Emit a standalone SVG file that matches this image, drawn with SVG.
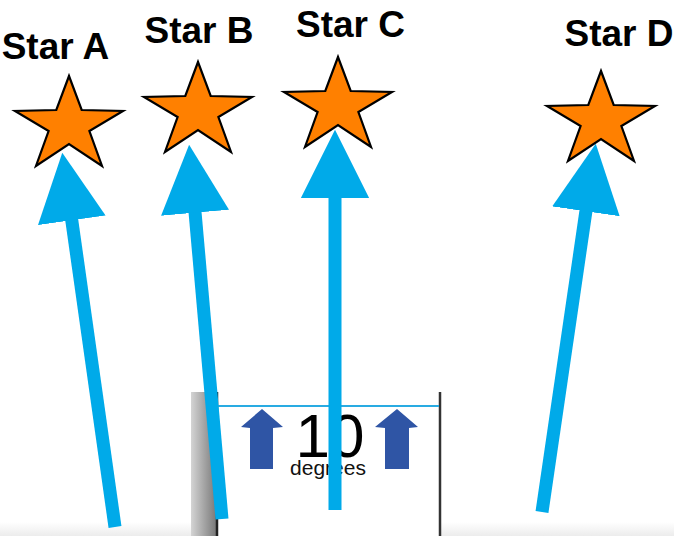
<svg xmlns="http://www.w3.org/2000/svg" width="674" height="536" viewBox="0 0 674 536">
<style>
.lbl{font-family:"Liberation Sans",Arial,sans-serif;font-weight:bold;font-size:37px;fill:#000;text-anchor:middle}
.star{fill:#FF8000;stroke:#000;stroke-width:2.2;stroke-linejoin:miter}
.conn{stroke:#00AAE9;stroke-width:13;fill:none;marker-end:url(#head)}
.up{fill:#2F55A5}
</style>
<defs>
<marker id="head" viewBox="0 0 10 10" refX="0.3" refY="5" markerWidth="5.25" markerHeight="5.25" orient="auto" markerUnits="strokeWidth">
<path d="M0,0 L10,5 L0,10 Z" fill="#00AAE9"/>
</marker>
<path id="starShape" d="M0,0 L12.7,34 L54,35 L20.4,55 L33,90 L0,68 L-33,90 L-20.4,55 L-54,35 L-12.7,34 Z"/>
<linearGradient id="bar" x1="0" y1="0" x2="1" y2="0">
<stop offset="0" stop-color="#d4d4d4"/>
<stop offset="1" stop-color="#7a7a7a"/>
</linearGradient>
<linearGradient id="floor" x1="0" y1="0" x2="0" y2="1">
<stop offset="0" stop-color="#ffffff"/>
<stop offset="1" stop-color="#ececec"/>
</linearGradient>
</defs>
<rect width="674" height="536" fill="#fff"/>
<g id="panel">
<rect x="0" y="522" width="674" height="14" fill="url(#floor)"/>
<rect x="191" y="392" width="25" height="144" fill="url(#bar)"/>
<rect x="216" y="392" width="224" height="144" fill="#fff"/>
<line x1="217" y1="392" x2="217" y2="536" stroke="#222" stroke-width="2.5"/>
<line x1="440" y1="392" x2="440" y2="536" stroke="#333" stroke-width="2.5"/>
<line x1="218" y1="406" x2="439" y2="406" stroke="#29ABE2" stroke-width="2"/>
<path class="up" d="M262,409 L283,427 L273,428 L273,469 L250,469 L250,428 L241,427 Z"/>
<path class="up" d="M397,409 L418,427 L409,428 L409,469 L385,469 L385,428 L375,427 Z"/>
<text x="330" y="457" font-family="Liberation Sans,Arial,sans-serif" font-size="62" text-anchor="middle" fill="#000">10</text>
<text x="328" y="475" font-family="Liberation Sans,Arial,sans-serif" font-size="21" text-anchor="middle" fill="#111">degrees</text>
</g>
<g id="connectors">
<line class="conn" x1="115" y1="527" x2="71.5" y2="218.3"/>
<line class="conn" x1="222" y1="519" x2="194.9" y2="210.7"/>
<line class="conn" x1="335" y1="510" x2="335" y2="196"/>
<line class="conn" x1="542" y1="512" x2="586.2" y2="209.3"/>
</g>
<g id="starA"><use href="#starShape" class="star" transform="translate(69,76)"/><text class="lbl" x="55.5" y="59">Star A</text></g>
<g id="starB"><use href="#starShape" class="star" transform="translate(198,62)"/><text class="lbl" x="199" y="43">Star B</text></g>
<g id="starC"><use href="#starShape" class="star" transform="translate(338,57)"/><text class="lbl" x="350.5" y="37">Star C</text></g>
<g id="starD"><use href="#starShape" class="star" transform="translate(601,71)"/><text class="lbl" x="619" y="46">Star D</text></g>
</svg>
